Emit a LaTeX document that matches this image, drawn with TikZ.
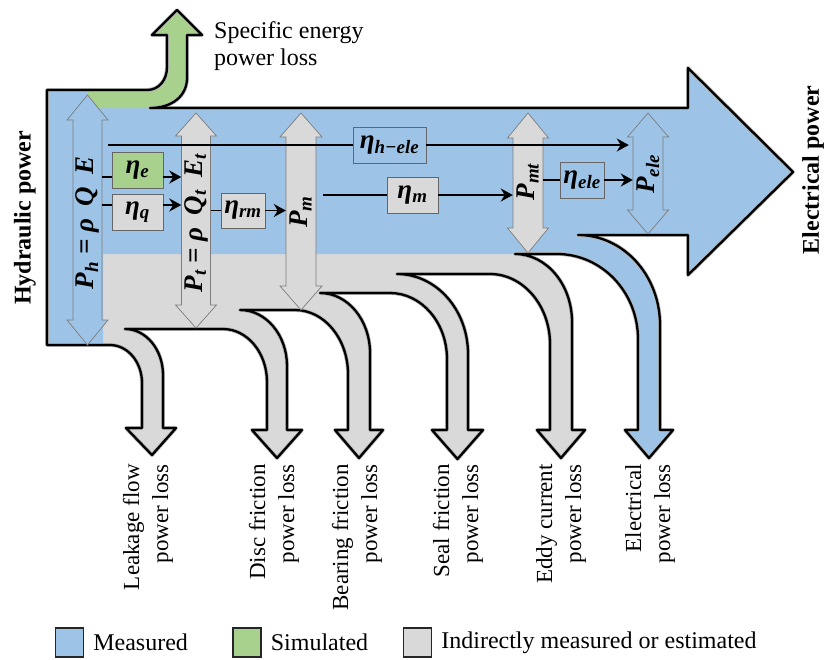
\documentclass[tikz,border=0pt]{standalone}
\usepackage{fontspec}
\setmainfont{Liberation Serif}
\usetikzlibrary{arrows.meta}
\definecolor{cblue}{RGB}{157,195,230}
\definecolor{cgreen}{RGB}{169,209,142}
\definecolor{cgray}{RGB}{217,217,217}
\definecolor{cedge}{RGB}{125,125,125}
\newcommand{\bimath}[1]{{\bfseries\itshape #1}}
\newcommand{\sbs}[1]{\textsubscript{#1}}
\newcommand{\gp}{\hspace{0.45em}}

\def\sankeyoutline{(47,345) -- (47,90) -- (147,90) .. controls (159,90) and (167,80) .. (167,67) -- (167,35) -- (152,35) -- (177,10) -- (202,35) -- (187,35) -- (187,78) .. controls (187,96) and (172,108) .. (150,108) -- (688,108) -- (688,68) -- (793,172) -- (688,275) -- (688,235) -- (578,235) .. controls (623.3,235) and (660,275.3) .. (660,325) -- (660,430) -- (673,430) -- (649,458) -- (625,430) -- (638,430) -- (638,339) .. controls (638,292) and (601.7,254) .. (557,254) -- (515,254) .. controls (546.5,254) and (572,284.5) .. (572,322) -- (572,430) -- (585,430) -- (561,458) -- (537,430) -- (550,430) -- (550,344) .. controls (550,305.4) and (523,274) .. (490,274) -- (397,274) .. controls (436.2,274) and (468,309.8) .. (468,354) -- (468,430) -- (483,430) -- (457.5,459) -- (432,430) -- (447,430) -- (447,359) .. controls (447,322.6) and (421.5,293) .. (390,293) -- (320,293) .. controls (347.6,293) and (370,319.9) .. (370,353) -- (370,430) -- (383,430) -- (359,458) -- (335,430) -- (348,430) -- (348,374) .. controls (348,338.7) and (324.3,310) .. (295,310) -- (240,310) .. controls (266,310) and (287,335) .. (287,366) -- (287,430) -- (302,430) -- (277,458) -- (252,430) -- (267,430) -- (267,382) .. controls (267,352.7) and (247.3,329) .. (223,329) -- (125,329) .. controls (146,329) and (163,349.6) .. (163,375) -- (163,428) -- (176,428) -- (152,455) -- (126,428) -- (142,428) -- (142,383) .. controls (142,362) and (127.7,345) .. (110,345) -- cycle}

\def\sankeyblue{(47,90) -- (87,90) -- (87,108) -- (688,108) -- (688,68) -- (793,172) -- (688,275) -- (688,235) -- (578,235) .. controls (623.3,235) and (660,275.3) .. (660,325) -- (660,430) -- (673,430) -- (649,458) -- (625,430) -- (638,430) -- (638,339) .. controls (638,292) and (601.7,254) .. (557,254) -- (103,254) -- (103,345) -- (47,345) -- cycle}

\def\sankeygreen{(87,90) -- (147,90) .. controls (159,90) and (167,80) .. (167,67) -- (167,35) -- (152,35) -- (177,10) -- (202,35) -- (187,35) -- (187,78) .. controls (187,96) and (172,108) .. (150,108) -- (87,108) -- cycle}

\newcommand{\dblarr}[7]{%
  \draw[dblline, fill=#7] (#1,#2) -- ({#1+#5},{#2+#6}) -- ({#1+#4},{#2+#6}) -- ({#1+#4},{#3-#6}) -- ({#1+#5},{#3-#6}) -- (#1,#3) -- ({#1-#5},{#3-#6}) -- ({#1-#4},{#3-#6}) -- ({#1-#4},{#2+#6}) -- ({#1-#5},{#2+#6}) -- cycle;}

\begin{document}
\begin{tikzpicture}[x=1pt,y=-1pt,
  outlineshadow/.style={draw=black!30, line width=3.8pt, line join=round},
  outlinemain/.style={draw=black, line width=2.3pt, line join=round},
  dblline/.style={draw=cedge, line width=0.7pt, line join=miter},
  shaftnode/.style={inner sep=0pt, minimum width=29pt, minimum height=20pt, font=\fontsize{27}{27}\selectfont},
  effbox/.style={draw=black!60, line width=0.8pt, inner sep=0pt, minimum height=36pt, font=\fontsize{27}{27}\selectfont},
  conn/.style={line width=1.8pt},
  flow/.style={line width=1.8pt, -{Stealth[length=12pt,width=13pt]}},
  lbl/.style={rotate=90, anchor=east, align=right, inner sep=0pt, font=\fontsize{23}{29}\selectfont},
  sidelbl/.style={rotate=90, inner sep=0pt, font=\bfseries\fontsize{24}{24}\selectfont},
  legbox/.style={draw=black!85, line width=1.3pt, minimum width=28pt, minimum height=29pt, inner sep=0pt},
  legtext/.style={anchor=west, inner sep=0pt, font=\fontsize{24}{24}\selectfont}
]
\useasboundingbox (0,0) rectangle (825,659);

% flow body
\fill[cgray] \sankeyoutline;
\fill[cblue] \sankeyblue;
\fill[cgreen] \sankeygreen;
\draw[outlineshadow] \sankeyoutline;
\draw[outlinemain] \sankeyoutline;

% power double arrows
\dblarr{87.5}{95}{345}{14.5}{20.5}{25}{cblue}
\dblarr{196}{113}{328}{14.5}{20.5}{23}{cgray}
\dblarr{301}{113}{310}{15}{21}{24}{cgray}
\dblarr{528}{113}{253}{15}{20.5}{25}{cgray}
\dblarr{648}{113}{234}{15}{20.5}{24}{cblue}

\node[shaftnode] (Ph) at (87.5,223) {\rotatebox{90}{\bimath{P\sbs{h} = ρ\gp Q\gp E}}};
\node[shaftnode] (Pt) at (196,223) {\rotatebox{90}{\bimath{P\sbs{t} = ρ\gp Q\sbs{t}\gp E\sbs{t}}}};
\node[shaftnode, minimum width=30pt] (Pm) at (301,212) {\rotatebox{90}{\bimath{P\sbs{m}}}};
\node[shaftnode, minimum width=30pt] (Pmt) at (528,182) {\rotatebox{90}{\bimath{P\sbs{mt}}}};
\node[shaftnode, minimum width=30pt] (Pele) at (648,174) {\rotatebox{90}{\bimath{P\sbs{ele}}}};

% efficiency boxes
\node[effbox, fill=cgreen, minimum width=51pt] (ne) at (137.5,170) {\bimath{η\sbs{e}}};
\node[effbox, fill=cgray, minimum width=51pt] (nq) at (137.5,212) {\bimath{η\sbs{q}}};
\node[effbox, fill=cgray, minimum width=44pt, minimum height=35pt] (nrm) at (243,210.5) {\bimath{η\sbs{rm}}};
\node[effbox, fill=cblue, minimum width=73pt] (nhele) at (389.5,145) {\bimath{η\sbs{h−ele}}};
\node[effbox, fill=cgray, minimum width=51pt] (nm) at (412.5,195) {\bimath{η\sbs{m}}};
\node[effbox, fill=cblue, minimum width=44pt] (nele) at (582,180) {\bimath{η\sbs{ele}}};

% connectors
\coordinate (neL) at ([yshift=-7pt]ne.west);
\coordinate (neR) at ([yshift=-7pt]ne.east);
\coordinate (nqL) at ([yshift=7pt]nq.west);
\coordinate (nqR) at ([yshift=7pt]nq.east);
\draw[conn] (neL -| Ph.east) -- (neL);
\draw[flow] (neR) -- (neR -| Pt.west);
\draw[conn] (nqL -| Ph.east) -- (nqL);
\draw[flow] (nqR) -- (nqR -| Pt.west);
\draw[conn] (nrm.west -| Pt.east) -- (nrm.west);
\draw[flow] (nrm.east) -- (nrm.east -| Pm.west);
\draw[conn, shorten <=6pt] (nhele.west -| Ph.east) -- (nhele.west);
\draw[flow, shorten >=4pt] (nhele.east) -- (nhele.east -| Pele.west);
\draw[conn, shorten <=7pt] (nm.west -| Pm.east) -- (nm.west);
\draw[flow] (nm.east) -- (nm.east -| Pmt.west);
\draw[conn] (nele.west -| Pmt.east) -- (nele.west);
\draw[flow] (nele.east) -- (nele.east -| Pele.west);

% texts
\node[anchor=west, align=left, inner sep=0pt, font=\fontsize{24}{27}\selectfont] (spec) at (214,46) {Specific energy\\power loss};
\node[sidelbl] (hyd) at (25,218) {Hydraulic power};
\node[sidelbl] (elp) at (813,170) {Electrical power};

\node[lbl] (l1) at (148,464) {Leakage flow\\power loss};
\node[lbl] (l2) at (274,464) {Disc friction\\power loss};
\node[lbl] (l3) at (357,464) {Bearing friction\\power loss};
\node[lbl] (l4) at (458,464) {Seal friction\\power loss};
\node[lbl] (l5) at (561,464) {Eddy current\\power loss};
\node[lbl] (l6) at (650,464) {Electrical\\power loss};

% legend
\node[legbox, fill=cblue] (k1) at (69.5,642.5) {};
\node[legtext] (t1) at ([xshift=9pt]k1.east) {Measured};
\node[legbox, fill=cgreen] (k2) at (247,642.5) {};
\node[legtext] (t2) at ([xshift=9pt]k2.east) {Simulated};
\node[legbox, fill=cgray] (k3) at (417.5,642.5) {};
\node[legtext] (t3) at ([xshift=9pt]k3.east) {Indirectly measured or estimated};
\end{tikzpicture}
\end{document}
